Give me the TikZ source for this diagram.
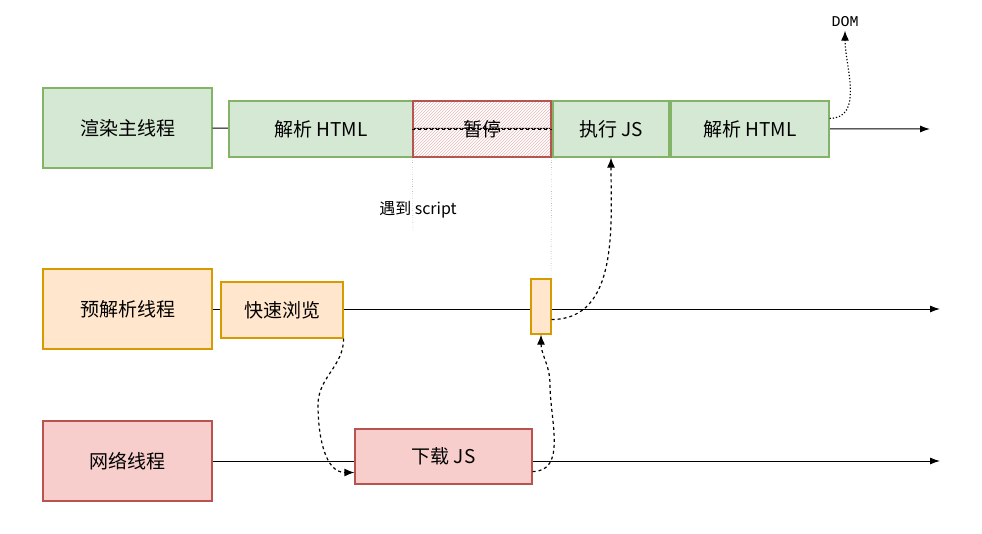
\documentclass[tikz,border=0pt]{standalone}
\usepackage{fontspec}
\setmainfont{Noto Sans CJK SC}
\newfontfamily\monofont{Liberation Mono}
\usetikzlibrary{patterns,arrows.meta}
\definecolor{gfill}{HTML}{D5E8D4}\definecolor{gline}{HTML}{82B366}
\definecolor{ofill}{HTML}{FFE6CC}\definecolor{oline}{HTML}{D79B00}
\definecolor{rfill}{HTML}{F8CECC}\definecolor{rline}{HTML}{B85450}
\tikzset{
  box/.style = {draw, line width=1.2pt, inner sep=0pt, font=\fontsize{19}{19}\selectfont},
  green/.style = {box, fill=gfill, draw=gline},
  orange/.style = {box, fill=ofill, draw=oline},
  red/.style = {box, fill=rfill, draw=rline},
  axis/.style = {line width=1pt, -{Latex[length=10pt,width=7pt]}},
  flow/.style = {line width=1.2pt, dashed, -{Latex[length=10pt,width=8pt]}}
}
\begin{document}
\begin{tikzpicture}[x=1pt, y=-1pt]
		\useasboundingbox (0,0) rectangle (982,533);

		% threads
		\node[green, minimum width=169pt, minimum height=80pt] (render) at (127.5,128) {渲染主线程};
		\node[orange, minimum width=169pt, minimum height=80pt] (preparse) at (127.5,309) {预解析线程};
		\node[red, minimum width=169pt, minimum height=80pt] (network) at (127.5,461) {网络线程};

		\coordinate (renderEnd) at (930,129);
		\coordinate (preEnd) at (940,309);
		\coordinate (netEnd) at (940,461);
		\draw[axis] (render.east) -- (renderEnd);
		\draw[axis] (preparse.east) -- (preEnd);
		\draw[axis] (network.east) -- (netEnd);

		% main thread
		\node[green, minimum width=184pt, minimum height=56pt] (parseOne) at (321,129) {解析 HTML};
		\node[box, draw=rline, pattern=north east lines, pattern color=rline!40, minimum width=138pt, minimum height=56pt] (pause) at (482,129) {};
		\draw[dashed] (pause.west) -- (pause.east);
		\node[font=\fontsize{19}{19}\selectfont, fill=white, fill opacity=0, text opacity=1] at (pause) {暂停};
		\node[green, minimum width=116pt, minimum height=56pt] (runJs) at (611,129) {执行 JS};
		\node[green, minimum width=158pt, minimum height=56pt] (parseTwo) at (750,129) {解析 HTML};

		\node[font=\fontsize{15}{15}\monofont] (dom) at (845,22) {DOM};
		\draw[line width=1.2pt, dotted, -{Latex[length=10pt,width=8pt]}] (parseTwo.north east) ++(0,18) coordinate (domStart)
			to[out=0, in=-90] (dom.south);

		\node[font=\fontsize{16}{16}\selectfont] (meet) at (418,210) {遇到 script};
		\coordinate (meetEnd) at (413,232);
		\coordinate (waitEnd) at (551,278);
		\draw[dotted, gray!70!black] (pause.south west) -- (meetEnd);
		\draw[dotted, gray!70!black] (pause.south east) -- (waitEnd);

		% preparse thread
		\node[orange, minimum width=122pt, minimum height=56pt] (scan) at (282,310) {快速浏览};
		\node[orange, minimum width=20pt, minimum height=55pt] (ready) at (541,306.5) {};

		% network thread
		\node[red, minimum width=177pt, minimum height=55pt] (download) at (443.5,456.5) {下载 JS};

		% edges
		\draw[flow] (scan.south east) to[out=-90, in=90] (318,405) to[out=-90, in=180] ([yshift=-16pt]download.west);
		\draw[flow] ([yshift=-15pt]download.east) to[out=0, in=-90] (550,385) to[out=90, in=-90] (ready.south);
		\draw[flow] ([yshift=-13pt]ready.east) to[out=0, in=-90] (runJs.south);
\end{tikzpicture}
\end{document}
